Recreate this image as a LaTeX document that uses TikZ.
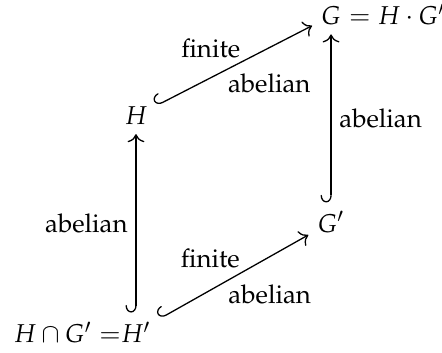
\documentclass[tikz,border=0pt]{standalone}
\usepackage[T1]{fontenc}
\usepackage{mathpazo}
\usepackage{tikz}
\usetikzlibrary{cd, positioning}
\tikzset{
  grp node/.style={
    inner sep=3.33pt
  },
  grp extra/.style={
    inner sep=0pt
  },
  grp incl/.style={
    {tikzcd right hook[scale=1.5]}-{tikzcd to}, line width=0.5pt
  },
  grp label/.style={
    inner sep=1pt
  }
}

\begin{document}
\begin{tikzpicture}[x=1pt, y=1pt]
  \useasboundingbox (-52.7,-7.75) rectangle (118.6,128.7);
  % Left column: H' below H
  \node (Hp) [grp node] at (0,0) {$H'$};
  \node (H) [grp node] at (0,83.7) {$H$};
  % Right column: G' below G
  \node (Gp) [grp node] at (75.6,42.6) {$G'$};
  \node (G) [grp node] at (75.6,122.5) {$G$};
  % Equalities next to H' and G
  \node (Hpre) [grp extra, anchor=base east] at ([xshift=3.6pt]Hp.base west) {$H\cap G' =$};
  \node (Gpost) [grp extra, anchor=base west] at ([xshift=-3.33pt]G.base east) {${}= H\cdot G'$};

  \draw [grp incl] (Hp) -- node [grp label, left=2pt] {abelian} (H);
  \draw [grp incl] (Gp) -- node [grp label, right=2pt] {abelian} (G);
  \draw [grp incl] (Hp) -- node [grp label, pos=0.56, anchor=south east] {finite}
                           node [grp label, pos=0.44, anchor=north west] {abelian} (Gp);
  \draw [grp incl] (H) -- node [grp label, pos=0.56, anchor=south east] {finite}
                          node [grp label, pos=0.44, anchor=north west] {abelian} (G);
\end{tikzpicture}
\end{document}
